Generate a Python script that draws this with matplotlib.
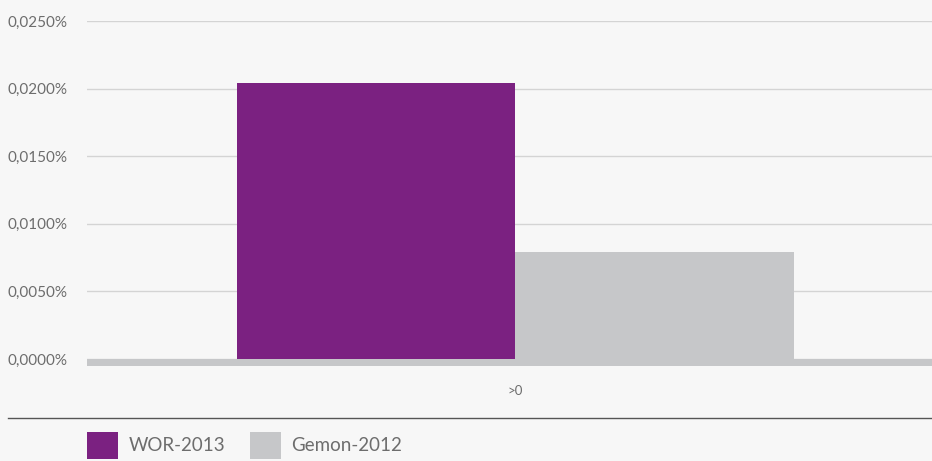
import matplotlib.pyplot as plt
from matplotlib.lines import Line2D
from matplotlib.ticker import FuncFormatter

plt.rcParams['font.family'] = ['Lato', 'DejaVu Sans']

categories = ['>0']
series_names = ['WOR-2013', 'Gemon-2012']
values_wor = [0.0204]
values_gemon = [0.0079]
y_ticks = [0.0, 0.005, 0.010, 0.015, 0.020, 0.025]

bg = '#f7f7f7'
purple = '#7b2181'
grey = '#c6c7c9'
text_col = '#6d6d6d'

W, H = 932, 461
fig = plt.figure(figsize=(W / 100, H / 100), dpi=100, facecolor=bg)

# axes: left edge 87px, right edge 932px, top at 21px (0.025), bottom 366px
top_px, zero_px, bot_px = 21, 359, 366
ymin = -(bot_px - zero_px) / (zero_px - top_px) * 0.025
ax = fig.add_axes([87 / W, 1 - bot_px / H, 1 - 87 / W, (bot_px - top_px) / H])
ax.set_facecolor(bg)

bw = 0.33
x = list(range(len(categories)))
ax.bar([i - bw / 2 for i in x], values_wor, width=bw, color=purple, label=series_names[0], zorder=3)
ax.bar([i + bw / 2 for i in x], values_gemon, width=bw, color=grey, label=series_names[1], zorder=3)

ax.set_xlim(-0.507, 0.493)
ax.set_ylim(ymin, 0.025)
ax.set_yticks(y_ticks)
ax.yaxis.set_major_formatter(FuncFormatter(lambda v, p: f'{v:.4f}%'.replace('.', ',')))
ax.grid(axis='y', color='#d4d4d4', linewidth=1, zorder=1)
ax.axhspan(ymin, 0, color=grey, zorder=4, linewidth=0)

ax.set_xticks(x)
ax.set_xticklabels(categories)
ax.tick_params(axis='x', length=0, pad=14, labelsize=9.5, colors=text_col)
ax.tick_params(axis='y', length=0, pad=14, labelsize=11, colors=text_col)
for s in ax.spines.values():
    s.set_visible(False)

# separator line
fig.add_artist(Line2D([8 / W, 1], [1 - 418 / H, 1 - 418 / H], color='#555555', linewidth=1))

handles, labels = ax.get_legend_handles_labels()
fig.legend(handles, labels, loc='upper left', bbox_to_anchor=(87 / W, 1 - 432 / H),
           ncol=2, frameon=False, fontsize=13.5, labelcolor=text_col,
           handlelength=1.65, handleheight=1.8, handletextpad=0.58,
           columnspacing=1.3, borderpad=0, borderaxespad=0)

fig.savefig('out.png', dpi=100, facecolor=bg)
